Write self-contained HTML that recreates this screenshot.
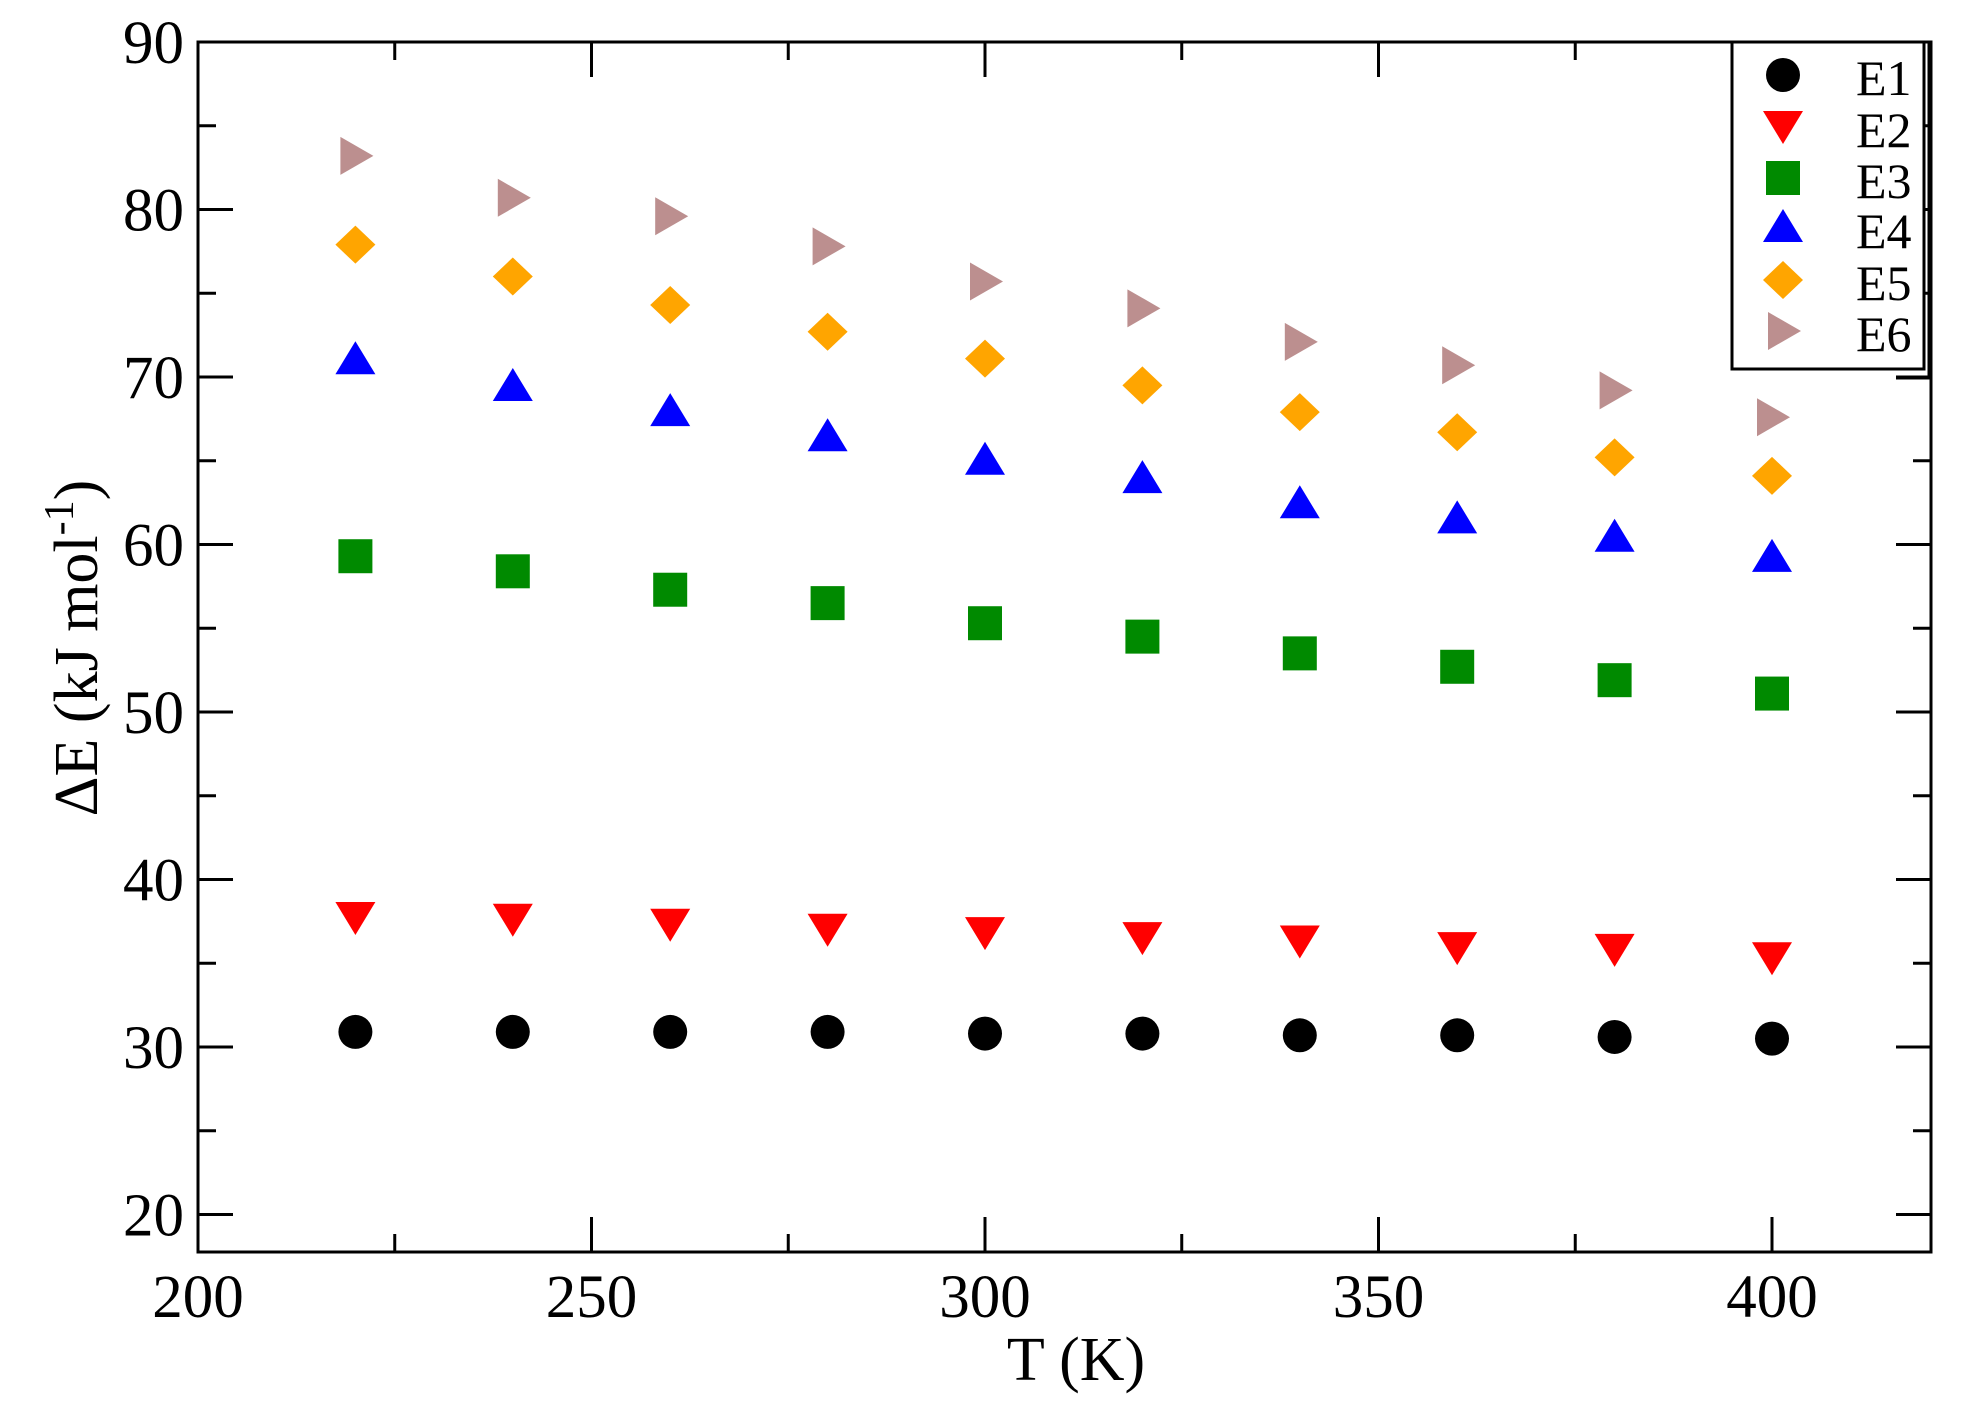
<!DOCTYPE html>
<html><head><meta charset="utf-8"><style>
html,body{margin:0;padding:0;background:#fff;}
svg{display:block;}
text{font-family:"Liberation Serif",serif;fill:#000;}
</style></head><body>
<svg id="s" width="1974" height="1425" xmlns="http://www.w3.org/2000/svg"></svg>
<script>
const s=document.getElementById('s');
let h='';
const X0=198,Y0=42,X1=1931,Y1=1252;
const px=x=>X0+(x-200)*7.87, py=v=>Y0+(90-v)*16.75;
h+=`<rect x="${X0}" y="${Y0}" width="${X1-X0}" height="${Y1-Y0}" fill="none" stroke="#000" stroke-width="3"/>`;
for(let x=225;x<420;x+=25){const L=(x%50==0)?35:18;const X=px(x);
h+=`<line x1="${X}" y1="${Y1}" x2="${X}" y2="${Y1-L}" stroke="#000" stroke-width="3"/><line x1="${X}" y1="${Y0}" x2="${X}" y2="${Y0+L}" stroke="#000" stroke-width="3"/>`;}
for(let v=20;v<90;v+=5){const L=(v%10==0)?35:18;const Y=py(v);
h+=`<line x1="${X0}" y1="${Y}" x2="${X0+L}" y2="${Y}" stroke="#000" stroke-width="3"/><line x1="${X1}" y1="${Y}" x2="${X1-L}" y2="${Y}" stroke="#000" stroke-width="3"/>`;}
for(let x=200;x<=400;x+=50)h+=`<text x="${px(x)}" y="1317" font-size="61" text-anchor="middle">${x}</text>`;
for(let v=20;v<=90;v+=10)h+=`<text x="184" y="${py(v)+21}" font-size="61" text-anchor="end">${v}</text>`;
h+=`<text x="1076" y="1380" font-size="62" text-anchor="middle">T (K)</text>`;
h+=`<text transform="translate(97,648) rotate(-90)" font-size="62" text-anchor="middle">ΔE (kJ mol<tspan dy="-24" font-size="42">-1</tspan><tspan dy="24">)</tspan></text>`;
function m(t,x,y){
 if(t==0)return `<circle cx="${x}" cy="${y}" r="17" fill="#000"/>`;
 if(t==1)return `<polygon points="${x-20},${y-16} ${x+20},${y-16} ${x},${y+17}" fill="#ff0000"/>`;
 if(t==2)return `<rect x="${x-17}" y="${y-17}" width="34" height="34" fill="#008a00"/>`;
 if(t==3)return `<polygon points="${x-20},${y+14} ${x+20},${y+14} ${x},${y-19}" fill="#0000ff"/>`;
 if(t==4)return `<polygon points="${x},${y-19} ${x+20},${y} ${x},${y+19} ${x-20},${y}" fill="#ffa500"/>`;
 return `<polygon points="${x-15},${y-19} ${x+18},${y} ${x-15},${y+19}" fill="#bc8f8f"/>`;
}
const D=[
[30.9,30.9,30.9,30.9,30.8,30.8,30.7,30.7,30.6,30.5],
[37.7,37.6,37.3,37,36.8,36.5,36.3,35.9,35.8,35.3],
[59.3,58.4,57.3,56.5,55.3,54.5,53.5,52.7,51.9,51.1],
[71.0,69.4,67.9,66.4,65,63.9,62.4,61.5,60.4,59.2],
[77.9,76,74.3,72.7,71.1,69.5,67.9,66.7,65.2,64.1],
[83.2,80.7,79.6,77.8,75.7,74.1,72.1,70.7,69.2,67.6]];
D.forEach((a,t)=>a.forEach((v,i)=>{h+=m(t,px(220+20*i),py(v));}));
h+=`<polyline points="1896,378 1929,378 1929,42" fill="none" stroke="#000" stroke-width="3"/>`;
h+=`<rect x="1732" y="42" width="192" height="327" fill="#fff" stroke="#000" stroke-width="3"/>`;
[75,127,178,228,280,331].forEach((y,i)=>{h+=m(i,1783,y);h+=`<text x="1856" y="${y+20}" font-size="50">E${i+1}</text>`;});
s.innerHTML=h;
</script>
</body></html>
